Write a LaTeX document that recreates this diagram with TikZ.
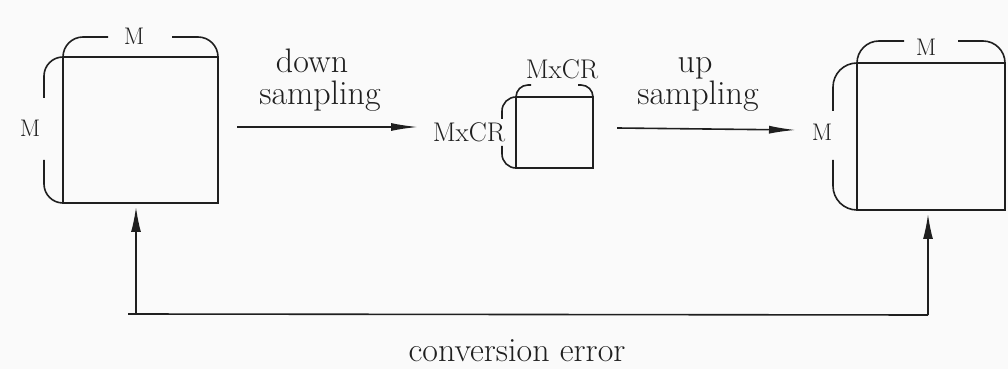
\documentclass[tikz,border=0pt]{standalone}
\usetikzlibrary{arrows.meta}
\begin{document}
\begin{tikzpicture}[x=1pt,y=1pt,
  ink/.style={draw=black!88,line width=1.6pt},
  frame/.style={ink,minimum width=#1,inner sep=0pt,outer sep=0pt},
  lbl/.style={text=black!88,font=\fontsize{24}{27}\selectfont,inner sep=0pt},
  dimtext/.style={text=black!88,font=\fontsize{27}{30}\selectfont,inner sep=0pt},
  steptext/.style={text=black!88,font=\fontsize{34}{32}\selectfont,inner sep=0pt,anchor=base},
  flow/.style={ink,-{Latex[length=27pt,width=8pt]}},
  back/.style={ink,-{Latex[length=25pt,width=10pt]},shorten >=4pt}]
  \fill[gray!4] (0,0) rectangle (1008,369);
  \useasboundingbox (0,0) rectangle (1008,369);

  % the three image blocks
  \node[frame=155pt,minimum height=146pt] (src) at (140.5,239) {};
  \node[frame=77pt,minimum height=71pt] (mid) at (554.5,236.5) {};
  \node[frame=148pt,minimum height=147pt] (dst) at (931,232.5) {};

  % size braces of the source block
  \draw[ink] (src.north west) arc[start angle=180,end angle=90,radius=20] -- ++(25,0);
  \draw[ink] (src.north east) arc[start angle=0,end angle=90,radius=20] -- ++(-26,0);
  \draw[ink] (src.north west) arc[start angle=90,end angle=180,radius=19] -- ++(0,-22);
  \draw[ink] (src.south west) arc[start angle=270,end angle=180,radius=19] -- ++(0,24);
  \node[lbl] (srcw) at (134,333) {M};
  \node[lbl] (srch) at (30,241) {M};

  % size braces of the reduced block
  \draw[ink] (mid.north west) arc[start angle=180,end angle=90,radius=12] -- ++(3,0);
  \draw[ink] (mid.north east) arc[start angle=0,end angle=90,radius=12] -- ++(-3,0);
  \draw[ink] (mid.north west) arc[start angle=90,end angle=180,radius=14] -- ++(0,-8);
  \draw[ink] (mid.south west) arc[start angle=270,end angle=180,radius=14] -- ++(0,8);
  \node[dimtext] (midw) at (562,300) {MxCR};
  \node[dimtext] (midh) at (469,237) {MxCR};

  % size braces of the restored block
  \draw[ink] (dst.north west) arc[start angle=180,end angle=90,radius=22] -- ++(25,0);
  \draw[ink] (dst.north east) arc[start angle=0,end angle=90,radius=22] -- ++(-25,0);
  \draw[ink] (dst.north west) arc[start angle=90,end angle=180,radius=24] -- ++(0,-24);
  \draw[ink] (dst.south west) arc[start angle=270,end angle=180,radius=24] -- ++(0,26);
  \node[lbl] (dstw) at (926,322) {M};
  \node[lbl] (dsth) at (822,237) {M};

  % sampling steps
  \coordinate (d1) at (237,242);
  \coordinate (d2) at (418,242);
  \coordinate (u1) at (617,241);
  \coordinate (u2) at (796,239);
  \draw[flow] (d1) -- (d2);
  \draw[flow] (u1) -- (u2);
  \node[steptext] (down1) at (312,296) {down};
  \node[steptext] (down2) at (320,264) {sampling};
  \node[steptext] (up1) at (695,296) {up};
  \node[steptext] (up2) at (698,264) {sampling};

  % error feedback
  \coordinate (e1) at (128,55);
  \coordinate (e1b) at (136,55);
  \coordinate (e2) at (928,54);
  \draw[ink] (e1) -- (e2);
  \draw[back] (e1b) -- (e1b |- src.south);
  \draw[back] (e2) -- (e2 |- dst.south);
  \node[steptext] (err) at (517,7) {conversion error};
\end{tikzpicture}
\end{document}
